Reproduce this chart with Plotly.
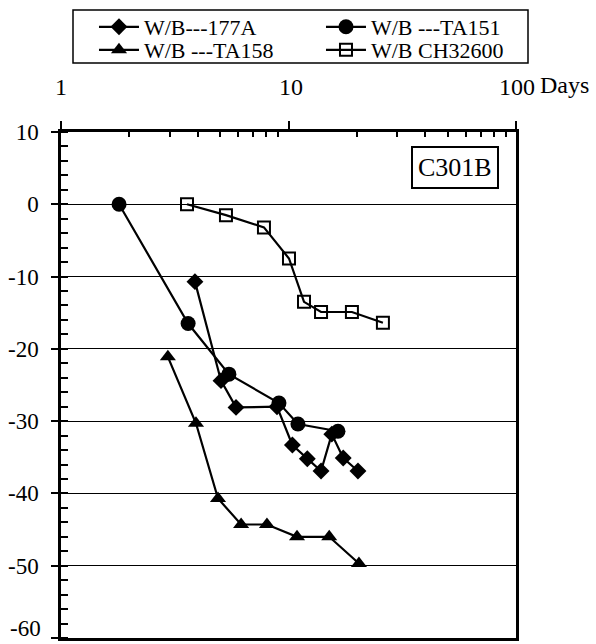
import plotly.graph_objects as go

# ---- data (days, % change) ----
days_177A = [3.88, 5.05, 5.88, 8.9, 10.4, 12.1, 13.9, 15.5, 17.4, 20.2]
vals_177A = [-10.7, -24.4, -28.1, -28.0, -33.3, -35.2, -36.9, -31.8, -35.1, -36.9]

days_TA151 = [1.8, 3.62, 5.47, 9.08, 11.0, 16.5]
vals_TA151 = [0.0, -16.5, -23.5, -27.5, -30.4, -31.4]

days_TA158 = [2.95, 3.92, 4.9, 6.19, 8.04, 10.9, 15.1, 20.4]
vals_TA158 = [-21.1, -30.3, -40.7, -44.3, -44.3, -46.0, -46.0, -49.7]

days_CH = [3.58, 5.31, 7.8, 10.05, 11.7, 13.9, 19.0, 26.0]
vals_CH = [0.0, -1.5, -3.2, -7.5, -13.5, -14.9, -14.9, -16.4]

names = ["W/B---177A", "W/B ---TA151", "W/B ---TA158", "W/B CH32600"]
x_tick_vals = [1, 10, 100]
x_minor_vals = [2, 3, 4, 5, 6, 7, 8, 9, 20, 30, 40, 50, 60, 70, 80, 90]
y_tick_vals = [10, 0, -10, -20, -30, -40, -50, -60]
y_tick_text = ["10", "0", "-10", "-20", "-30", "-40", "-50", ""]
y_bottom_label = "-60"
x_axis_unit = "Days"
panel_label = "C301B"

FONT = "Liberation Serif"

fig = go.Figure()
line = dict(color="black", width=2.2)

fig.add_trace(go.Scatter(x=days_177A, y=vals_177A, name=names[0], mode="lines+markers",
                         line=line, legend="legend",
                         marker=dict(symbol="diamond", size=13, color="black")))
fig.add_trace(go.Scatter(x=days_TA151, y=vals_TA151, name=names[1], mode="lines+markers",
                         line=line, legend="legend",
                         marker=dict(symbol="circle", size=15, color="black")))
fig.add_trace(go.Scatter(x=days_TA158, y=vals_TA158, name=names[2], mode="lines+markers",
                         line=line, legend="legend2",
                         marker=dict(symbol="triangle-up", size=14, color="black")))
fig.add_trace(go.Scatter(x=days_CH, y=vals_CH, name=names[3], mode="lines+markers",
                         line=line, legend="legend2",
                         marker=dict(symbol="square-open", size=12, color="black",
                                     line=dict(width=2, color="black"))))

legend_common = dict(orientation="h", xanchor="left", yanchor="top",
                     borderwidth=0, bgcolor="rgba(0,0,0,0)",
                     font=dict(family=FONT, size=22, color="black"),
                     entrywidth=172, tracegroupgap=0, itemwidth=40)

fig.update_layout(
    width=596, height=644,
    margin=dict(l=61, r=80, t=132, b=6, autoexpand=False),
    paper_bgcolor="white", plot_bgcolor="white",
    font=dict(family=FONT, color="black", size=22),
    showlegend=True,
    legend=dict(x=0.0725, y=1.249, **legend_common),
    legend2=dict(x=0.0725, y=1.2036, **legend_common),
    xaxis=dict(type="log", range=[0, 2], side="top", showgrid=False, zeroline=False,
               showline=True, linecolor="black", linewidth=2.5, mirror=True,
               tickvals=x_tick_vals, ticks="outside", ticklen=8, tickwidth=2, tickcolor="black",
               showticklabels=False,
               minor=dict(tickvals=x_minor_vals, ticks="inside", ticklen=5, tickwidth=2,
                          tickcolor="black", showgrid=False)),
    yaxis=dict(range=[-60, 10], tickvals=y_tick_vals, ticktext=y_tick_text,
               showgrid=True, gridcolor="black",
               gridwidth=1.3, zeroline=False, showline=True, linecolor="black", linewidth=2.5,
               mirror=True, ticks="outside", ticklen=7, tickwidth=2, tickcolor="black",
               ticklabelstandoff=8,
               tickfont=dict(family=FONT, size=23, color="black"),
               minor=dict(dtick=2, ticks="inside", ticklen=7, tickwidth=2,
                          tickcolor="black", showgrid=False)),
)

# legend frame
fig.add_shape(type="rect", xref="paper", yref="paper",
              x0=(73 - 61) / 455, x1=(528 - 61) / 455,
              y0=(638 - 63) / 506, y1=(638 - 10) / 506,
              line=dict(color="black", width=1.5), fillcolor="rgba(0,0,0,0)", layer="below")

# bottom y label kept just inside the page edge
fig.add_annotation(text=y_bottom_label, xref="paper", yref="paper", x=-0.042, y=-0.008,
                   showarrow=False, font=dict(family=FONT, size=23, color="black"),
                   xanchor="right", yanchor="bottom", borderpad=0)

# x tick labels (log axis, shown above the top axis as in the reference)
for v, xp in [(x_tick_vals[0], 0.0), (x_tick_vals[1], 0.5055)]:
    fig.add_annotation(text=str(v), xref="paper", yref="paper", x=xp, y=1.089,
                       showarrow=False, font=dict(family=FONT, size=24, color="black"),
                       xanchor="center", yanchor="middle")
fig.add_annotation(text=str(x_tick_vals[2]), xref="paper", yref="paper", x=1.046, y=1.089,
                   showarrow=False, font=dict(family=FONT, size=24, color="black"),
                   xanchor="right", yanchor="middle")
fig.add_annotation(text=x_axis_unit, xref="paper", yref="paper", x=1.049, y=1.093,
                   showarrow=False, font=dict(family=FONT, size=24, color="black"),
                   xanchor="left", yanchor="middle")

fig.add_annotation(text=panel_label, xref="paper", yref="paper", x=0.865, y=0.929,
                   showarrow=False, font=dict(family=FONT, size=26, color="black"),
                   xanchor="center", yanchor="middle", bordercolor="black", borderwidth=2,
                   borderpad=5, bgcolor="white")

fig.write_html("out.html", config={"displayModeBar": False},
               post_script="document.body.style.margin='0';")
